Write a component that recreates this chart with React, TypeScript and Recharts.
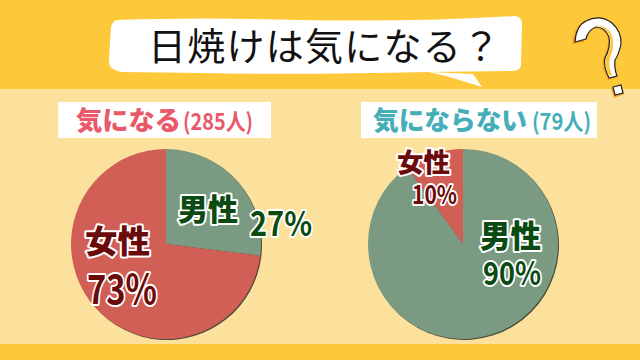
import { PieChart, Pie, Cell } from "recharts";

const title = "日焼けは気になる？";
const categories = ["男性", "女性"];
const caresValues = [27, 73];
const notCaresValues = [90, 10];
const caresHeading = "気になる";
const caresCount = "(285人)";
const notCaresHeading = "気にならない";
const notCaresCount = "(79人)";

const FONT = '"Noto Sans CJK JP", "Noto Sans", sans-serif';
const GREEN = "#7A9A82";
const RED = "#D25F56";
const DARK_GREEN = "#0B4A12";
const DARK_RED = "#6B0A0A";
const SLICE_COLORS = [GREEN, RED];

const caresData = categories.map((name, i) => ({ name, value: caresValues[i] }));
const notCaresData = categories.map((name, i) => ({ name, value: notCaresValues[i] }));

function Outlined({ x, y, w, size, color, weight = 900, sw = 4, children }: any) {
  return (
    <text
      x={x}
      y={y}
      textLength={w}
      lengthAdjust="spacingAndGlyphs"
      fontFamily={FONT}
      fontWeight={weight}
      fontSize={size}
      fill={color}
      stroke="#fff"
      strokeWidth={sw}
      strokeLinejoin="round"
      style={{ paintOrder: "stroke" }}
    >
      {children}
    </text>
  );
}

function Backdrop() {
  return (
    <svg width={640} height={360} style={{ position: "absolute", left: 0, top: 0 }}>
      <rect x={0} y={0} width={640} height={360} fill="#FDC83A" />
      <rect x={0} y={89} width={640} height={255} fill="#FBE19B" />

      <path
        d="M118 20 Q200 17 300 20 Q420 22 515 16 Q523 17 522 26 L521 64 Q521 71 513 71 L428 72 L473 74 L482 87 L446 76 L428 72 Q300 75 200 73 L122 72 Q108 70 109 60 Q110 40 111 27 Q112 21 118 20 Z"
        fill="#fff"
      />
      <text x={148} y={60} fontFamily={FONT} fontWeight={400} fontSize={38} fill="#111" textLength={352} lengthAdjust="spacing">
        {title}
      </text>

      <rect x={58} y={102} width={213} height={36} fill="#fff" />
      <text x={76} y={130} fontFamily={FONT} fontWeight={900} fontSize={26} fill="#E9596A" textLength={105} lengthAdjust="spacingAndGlyphs">
        {caresHeading}
      </text>
      <text x={183} y={130} fontFamily={FONT} fontWeight={700} fontSize={23} fill="#E9596A" textLength={70} lengthAdjust="spacingAndGlyphs">
        {caresCount}
      </text>

      <rect x={361} y={102} width={236} height={36} fill="#fff" />
      <text x={373} y={130} fontFamily={FONT} fontWeight={900} fontSize={26} fill="#45AEB8" textLength={154} lengthAdjust="spacingAndGlyphs">
        {notCaresHeading}
      </text>
      <text x={532} y={130} fontFamily={FONT} fontWeight={700} fontSize={23} fill="#45AEB8" textLength={59} lengthAdjust="spacingAndGlyphs">
        {notCaresCount}
      </text>

      <g>
        <path
          d="M572 44 Q574 28 582 22 Q596 14 610 22 Q621 30 620 44 Q618 54 613 62 Q612 72 616 78 L608 80 Q601 68 603 58 Q609 48 608 38 Q604 28 594 28 Q586 32 584 42 Z"
          fill="#F6A21E"
        />
        <path
          d="M575 42 Q576 26 586 21 Q600 14 612 23 Q622 32 621 44 Q619 54 615 60 Q614 68 617 76 L609 78 Q603 66 605 58 Q611 47 609 37 Q605 27 596 27 Q588 30 586 39 Z"
          fill="#fff"
          stroke="#222"
          strokeWidth={1.2}
        />
        <path d="M594 25 Q604 25 610 36 Q612 47 606 58 Q604 66 609 76 L612 75 Q608 66 610 58 Q615 47 612 35 Q606 24 594 25 Z" fill="#FDC83A" />
        <path d="M611 88 L621 84 L624 94 L614 98 Z" fill="#F6A21E" />
        <path d="M613 87 L621 85 L623 93 L615 95 Z" fill="#fff" stroke="#222" strokeWidth={1.2} />
      </g>
    </svg>
  );
}

function Labels() {
  return (
    <svg width={640} height={360} style={{ position: "absolute", left: 0, top: 0 }}>
      <Outlined x={178} y={220} w={60} size={30} color={DARK_GREEN}>{categories[0]}</Outlined>
      <Outlined x={250} y={236} w={62} size={34} weight={700} color={DARK_GREEN}>{`${caresValues[0]}%`}</Outlined>
      <Outlined x={85} y={253} w={65} size={32} color={DARK_RED}>{categories[1]}</Outlined>
      <Outlined x={87} y={304} w={70} size={40} weight={700} color={DARK_RED}>{`${caresValues[1]}%`}</Outlined>

      <Outlined x={397} y={172} w={53} size={26} color={DARK_RED}>{categories[1]}</Outlined>
      <Outlined x={412} y={204} w={45} size={26} weight={700} color={DARK_RED}>{`${notCaresValues[1]}%`}</Outlined>
      <Outlined x={480} y={247} w={61} size={31} color={DARK_GREEN}>{categories[0]}</Outlined>
      <Outlined x={483} y={285} w={58} size={32} weight={700} color={DARK_GREEN}>{`${notCaresValues[0]}%`}</Outlined>
    </svg>
  );
}

export default function App() {
  return (
    <div style={{ position: "fixed", left: 0, top: 0, width: 640, height: 360, overflow: "hidden" }}>
      <Backdrop />
      <div style={{ position: "absolute", left: 0, top: 0, filter: "drop-shadow(1px 1px 0.6px #4a4a3a)" }}>
        <PieChart width={640} height={360} margin={{ top: 0, right: 0, bottom: 0, left: 0 }}>
          <Pie
            data={caresData}
            dataKey="value"
            nameKey="name"
            cx={166}
            cy={244}
            outerRadius={95}
            startAngle={90}
            endAngle={-270}
            stroke="none"
            isAnimationActive={false}
          >
            {caresData.map((d, i) => (
              <Cell key={d.name} fill={SLICE_COLORS[i]} />
            ))}
          </Pie>
          <Pie
            data={notCaresData}
            dataKey="value"
            nameKey="name"
            cx={463}
            cy={244}
            outerRadius={95}
            startAngle={90}
            endAngle={-270}
            stroke="none"
            isAnimationActive={false}
          >
            {notCaresData.map((d, i) => (
              <Cell key={d.name} fill={SLICE_COLORS[i]} />
            ))}
          </Pie>
        </PieChart>
      </div>
      <Labels />
    </div>
  );
}
